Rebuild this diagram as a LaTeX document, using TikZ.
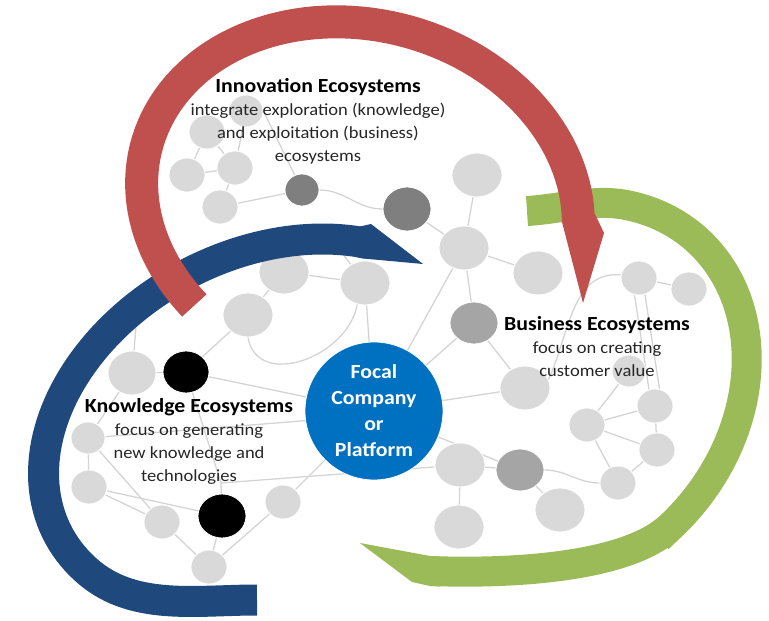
\documentclass[tikz,border=0pt]{standalone}
\usepackage{fontspec}
\setmainfont{Carlito}[FakeStretch=1.09]
\usetikzlibrary{shapes.geometric}
\usetikzlibrary{backgrounds}

\definecolor{arcred}{HTML}{C0504D}
\definecolor{arcblue}{HTML}{1F497D}
\definecolor{arcgreen}{HTML}{9BBB59}
\definecolor{focalblue}{HTML}{0070C0}
\definecolor{nodelight}{HTML}{D9D9D9}
\definecolor{nodedark}{HTML}{7F7F7F}
\definecolor{nodemid}{HTML}{A5A5A5}
\definecolor{wiregray}{HTML}{D4D4D4}

\newcommand{\ecotitle}[1]{{\fontsize{20}{23}\selectfont\bfseries\color{black}#1}}

\begin{document}
\begin{tikzpicture}[x=1pt, y=1pt,
	blob/.style={ellipse, draw=white, line width=0.8pt, fill=nodelight, inner sep=0pt},
	sm/.style={blob, minimum width=36pt, minimum height=34pt},
	lg/.style={blob, minimum width=50pt, minimum height=44pt},
	wire/.style={draw=wiregray, line width=1.3pt},
	band/.style={line width=#1, line cap=butt},
	ecotext/.style={align=center, text=black!85, font=\fontsize{17}{23}\selectfont}]
	\useasboundingbox (0,0) rectangle (769,-621);

	% innovation side
	\node[sm, minimum width=34pt, minimum height=32pt] (i1) at (246,-111) {};
	\node[sm] (i2) at (207,-132) {};
	\node[sm] (i3) at (187,-175) {};
	\node[sm] (i4) at (235,-168) {};
	\node[sm] (i5) at (220,-207) {};
	\node[sm, minimum width=34pt, minimum height=32pt, fill=nodedark] (d1) at (302,-190) {};
	\node[lg, minimum width=48pt, fill=nodedark] (d2) at (407,-209) {};
	\node[lg] (b1) at (477,-175) {};
	\node[lg] (b2) at (464,-248) {};
	\node[lg] (b3) at (538,-273) {};
	\node[lg, minimum width=48pt, minimum height=42pt, fill=nodemid] (m1) at (474,-323) {};

	% business side
	\node[sm] (b4) at (639,-278) {};
	\node[sm] (b5) at (689,-289) {};
	\node[lg] (c1) at (525,-388) {};
	\node[sm, minimum width=34pt, minimum height=32pt] (c2) at (629,-371) {};
	\node[sm] (e1) at (655,-406) {};
	\node[sm] (e2) at (587,-425) {};
	\node[sm] (e3) at (657,-450) {};
	\node[sm] (e4) at (618,-483) {};
	\node[lg] (s1) at (460,-465) {};
	\node[lg, minimum width=48pt, minimum height=42pt, fill=nodemid] (m2) at (520,-470) {};
	\node[lg] (s3) at (560,-510) {};
	\node[lg] (s4) at (459,-527) {};

	% knowledge side
	\node[lg] (k1) at (284,-272) {};
	\node[lg] (k2) at (365,-283) {};
	\node[lg] (k3) at (248,-315) {};
	\node[lg, minimum width=48pt] (g1) at (132,-373) {};
	\node[lg, minimum width=46pt, minimum height=42pt, fill=black] (x1) at (186,-372) {};
	\node[sm, minimum width=34pt, minimum height=32pt] (g2) at (88,-438) {};
	\node[sm] (g3) at (89,-487) {};
	\node[sm] (g4) at (162,-522) {};
	\node[lg, minimum width=48pt, fill=black] (x2) at (222,-516) {};
	\node[sm] (g5) at (283,-502) {};
	\node[sm] (g6) at (209,-567) {};

	\node[circle, fill=focalblue, draw=white, line width=0.8pt, minimum size=138pt, inner sep=0pt,
		align=center, text=white, font=\bfseries\fontsize{20}{26}\selectfont] (focal) at (374,-411) {Focal\\Company\\or\\Platform};

	\coordinate (j1) at (221,-483);
	\coordinate (gtop) at (138,-305);
	\coordinate (ktop) at (332,-240);

	\begin{scope}[on background layer]
		\draw[wire] (i2) -- (i3);
		\draw[wire] (i2) -- (i4);
		\draw[wire] (i1) -- (i4);
		\draw[wire] (i3) -- (i4);
		\draw[wire] (i4) -- (i5);
		\draw[wire] (i5) -- (d1);
		\draw[wire] (i1.east) -- (d1);
		\draw[wire] (d1) to[out=0, in=180] (d2);
		\draw[wire] (d2) -- (b2);
		\draw[wire] (b1) -- (b2);
		\draw[wire] (b2) -- (b3);
		\draw[wire] (b2) -- (m1);
		\draw[wire] (b2) -- (focal);
		\draw[wire] (m1) -- (focal);
		\draw[wire] (m1) -- (c1);
		\draw[wire] (c1) -- (focal);
		\draw[wire] (b4) -- (b5);
		\draw[wire] (b4.255) -- (e1.110);
		\draw[wire] (b4.290) -- (e1.75);
		\draw[wire] (b4.170) to[out=175, in=65] (c1.20);
		\draw[wire] (c2) -- (e2);
		\draw[wire] (e2) -- (e1);
		\draw[wire] (e2) -- (e3);
		\draw[wire] (e2) -- (e4);
		\draw[wire] (e1) -- (e3);
		\draw[wire] (e3) -- (e4);
		\draw[wire] (m2) to[out=0, in=180] (e4);
		\draw[wire] (focal) -- (m2);
		\draw[wire] (s1) -- (m2);
		\draw[wire] (s1) -- (s4);
		\draw[wire] (m2) -- (s3);
		\draw[wire] (k1) -- (k2);
		\draw[wire] (k1) -- (k3);
		\draw[wire] (k3.south) to[out=-80, in=-100, looseness=1.2] (k2.250);
		\draw[wire] (k2) -- (focal);
		\draw[wire] (k2) -- (ktop);
		\draw[wire] (k3) -- (x1);
		\draw[wire] (x1) -- (focal);
		\draw[wire] (g1) -- (x1);
		\draw[wire] (g1) -- (gtop);
		\draw[wire] (g1) -- (g2);
		\draw[wire] (g2) -- (g3);
		\draw[wire] (g2) -- (g4);
		\draw[wire] (g2) -- (focal.188);
		\draw[wire] (g3) -- (x2);
		\draw[wire] (g3) -- (g4);
		\draw[wire] (g4) -- (g6);
		\draw[wire] (g6) -- (x2);
		\draw[wire] (g6) -- (g5);
		\draw[wire] (g5) -- (focal);
		\draw[wire] (x1) -- (j1);
		\draw[wire] (x2) -- (j1) -- (s1);
	\end{scope}

	% the three arrows
	\draw[arcgreen, band=30pt] (430,-571) .. controls (510,-574) and (626,-568) .. (670,-527)
		-- plot[domain=-98.45:23.78, samples=80, variable=\t] ({560+207*cos(\t)*cos(50)-171*sin(\t)*sin(50)}, {-395+207*cos(\t)*sin(50)+171*sin(\t)*cos(50)})
		.. controls (595,-198) and (562,-209) .. (527,-211);
	\fill[arcgreen] (440,-556.4) -- (430,-556) -- (360,-543) -- (412,-582) -- (430,-586) -- (440,-586.4) -- cycle;

	\draw[arcblue, band=31pt] plot[domain=-318.65:-163.7, samples=80, variable=\t] ({265+234*cos(\t)*cos(28)-170*sin(\t)*sin(28)}, {-425+234*cos(\t)*sin(28)+170*sin(\t)*cos(28)})
		.. controls (135,-611) and (197,-600) .. (257,-600);
	\fill[arcblue] (360,-226.5) -- (371,-224) -- (423,-264) -- (364,-258.6) -- (356,-257) -- cycle;

	\draw[arcred, band=33pt] plot[domain=-347.65:-127.16, samples=90, variable=\t] ({360+221*cos(\t)*cos(15)+178*sin(\t)*sin(15)}, {-203-221*cos(\t)*sin(15)+178*sin(\t)*cos(15)});
	\fill[arcred] (562,-214) -- (595,-214) -- (604,-233) -- (583,-303) -- (562,-222) -- cycle;

	\node[ecotext] (innov) at (318,-121) {\ecotitle{Innovation Ecosystems}\\integrate exploration (knowledge)\\and exploitation (business)\\ecosystems};
	\node[ecotext] (busi) at (597,-347) {\ecotitle{Business Ecosystems}\\focus on creating\\customer value};
	\node[ecotext] (know) at (189,-441) {\ecotitle{Knowledge Ecosystems}\\focus on generating\\new knowledge and\\technologies};
\end{tikzpicture}
\end{document}
